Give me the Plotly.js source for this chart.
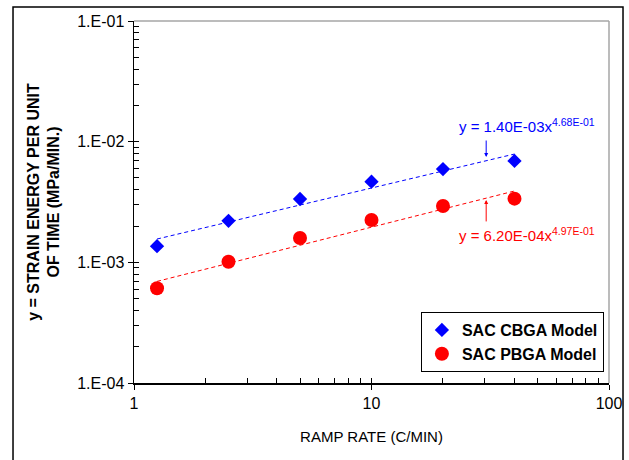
<!DOCTYPE html>
<html>
<head>
<meta charset="utf-8">
<script src="https://cdn.plot.ly/plotly-3.0.1.min.js"></script>
<style>html,body{margin:0;padding:0;background:#fff;}#chart{width:629px;height:460px;}</style>
</head>
<body>
<div id="chart"></div>
<script>
// Data
const rampRate = [1.25, 2.5, 5, 10, 20, 40];
const cbgaEnergy = [1.36e-3, 2.21e-3, 3.35e-3, 4.66e-3, 5.93e-3, 6.92e-3];
const pbgaEnergy = [6.1e-4, 1.01e-3, 1.59e-3, 2.24e-3, 2.93e-3, 3.37e-3];
// Trendline endpoints (power-law fits drawn as straight lines on log-log)
const trendX = [1.25, 40];
const cbgaTrend = [1.56e-3, 7.9e-3];
const pbgaTrend = [6.95e-4, 3.9e-3];
const cbgaEq = 'y = 1.40E-03x<sup>4.68E-01</sup>';
const pbgaEq = 'y = 6.20E-04x<sup>4.97E-01</sup>';
const xTickVals = [1, 10, 100];
const xTickText = ['1', '10', '100'];
const yTickVals = [1e-4, 1e-3, 1e-2, 1e-1];
const yTickText = ['1.E-04', '1.E-03', '1.E-02', '1.E-01'];
const seriesNames = ['SAC CBGA Model', 'SAC PBGA Model'];

function minorVals(lo, hi) {
  const v = [];
  for (let d = lo; d < hi; d++) for (let k = 2; k <= 9; k++) v.push(k * Math.pow(10, d));
  return v;
}

const FONT = 'Liberation Sans, Arial, sans-serif';
const BLUE = '#0000ff', RED = '#ff0000';

const traces = [
  {x: trendX, y: cbgaTrend, mode: 'lines', line: {color: BLUE, width: 1, dash: '4px,3px'}, showlegend: false, hoverinfo: 'skip'},
  {x: trendX, y: pbgaTrend, mode: 'lines', line: {color: RED, width: 1, dash: '4px,3px'}, showlegend: false, hoverinfo: 'skip'},
  {x: rampRate, y: cbgaEnergy, mode: 'markers', name: seriesNames[0], marker: {symbol: 'diamond', size: 11, color: BLUE}},
  {x: rampRate, y: pbgaEnergy, mode: 'markers', name: seriesNames[1], marker: {symbol: 'circle', size: 14, color: RED}},
  {x: [10], y: [1e-2], xaxis: 'x2', yaxis: 'y2', mode: 'markers', marker: {opacity: 0}, showlegend: false, hoverinfo: 'skip'}
];

const axBase = {
  type: 'log', showgrid: false, zeroline: false, showline: true, linecolor: '#000', linewidth: 1.5,
  tickcolor: '#000', tickwidth: 1, ticks: 'outside', ticklen: 5, tickmode: 'array',
  tickfont: {family: FONT, size: 16, color: '#000'}
};

const layout = {
  width: 629, height: 460,
  margin: {l: 134, r: 20, t: 21, b: 77},
  paper_bgcolor: '#fff', plot_bgcolor: '#fff',
  font: {family: FONT, color: '#000'},
  xaxis: Object.assign({}, axBase, {
    range: [0, 2], tickvals: xTickVals, ticktext: xTickText,
    minor: {tickmode: 'array', tickvals: minorVals(0, 2), ticks: 'inside', ticklen: 5, tickcolor: '#000', showgrid: false},
    title: {text: 'RAMP RATE (C/MIN)', font: {family: FONT, size: 15, color: '#000'}, standoff: 21}
  }),
  yaxis: Object.assign({}, axBase, {
    range: [-4, -1], tickvals: yTickVals, ticktext: yTickText,
    minor: {tickmode: 'array', tickvals: minorVals(-4, -1), ticks: 'inside', ticklen: 5, tickcolor: '#000', showgrid: false},
    title: {text: 'y = STRAIN ENERGY PER UNIT<br>OF TIME (MPa/MIN.)', font: {family: FONT, size: 16, color: '#000', weight: 'bold'}, standoff: 13}
  }),
  xaxis2: {type: 'log', range: [0, 2], overlaying: 'x', anchor: 'y', showgrid: false, zeroline: false, showline: false,
    tickmode: 'array', tickvals: xTickVals, ticks: 'inside', ticklen: 5, tickcolor: '#000', showticklabels: false},
  yaxis2: {type: 'log', range: [-4, -1], overlaying: 'y', anchor: 'x', showgrid: false, zeroline: false, showline: false,
    tickmode: 'array', tickvals: yTickVals, ticks: 'inside', ticklen: 5, tickcolor: '#000', showticklabels: false},
  showlegend: true,
  legend: {
    x: 0.604, y: 0.196, xanchor: 'left', yanchor: 'top',
    bordercolor: '#000', borderwidth: 1, bgcolor: '#fff', itemwidth: 30,
    font: {family: FONT, size: 16, weight: 'bold'}, tracegroupgap: 0, itemsizing: 'trace'
  },
  shapes: [
    {type: 'line', xref: 'paper', yref: 'paper', x0: 0, x1: 1, y0: 1, y1: 1, line: {color: '#a6a6a6', width: 1.5}},
    {type: 'line', xref: 'paper', yref: 'paper', x0: 1, x1: 1, y0: 0, y1: 1, line: {color: '#a6a6a6', width: 1.5}},
    {type: 'rect', xref: 'paper', yref: 'paper', x0: -0.2547, x1: 1.0295, y0: -0.25, y1: 1.0387, line: {color: '#000', width: 1.5}, layer: 'below'}
  ],
  annotations: [
    {xref: 'paper', yref: 'paper', x: 0.68, y: 0.712, xanchor: 'left', yanchor: 'middle', showarrow: false,
      text: cbgaEq, font: {family: FONT, size: 15, color: BLUE}},
    {xref: 'paper', yref: 'paper', x: 0.68, y: 0.409, xanchor: 'left', yanchor: 'middle', showarrow: false,
      text: pbgaEq, font: {family: FONT, size: 15, color: RED}},
    {x: Math.log10(30.4), y: Math.log10(7.46e-3), xref: 'x', yref: 'y', text: '', showarrow: true,
      ax: 0, ay: -18, arrowhead: 2, arrowsize: 0.8, arrowwidth: 1, arrowcolor: BLUE, standoff: 0},
    {x: Math.log10(30.4), y: Math.log10(3.29e-3), xref: 'x', yref: 'y', text: '', showarrow: true,
      ax: 0, ay: 23, arrowhead: 2, arrowsize: 0.8, arrowwidth: 1, arrowcolor: RED, standoff: 0}
  ]
};

Plotly.newPlot('chart', traces, layout, {displayModeBar: false, staticPlot: true});
</script>
</body>
</html>
